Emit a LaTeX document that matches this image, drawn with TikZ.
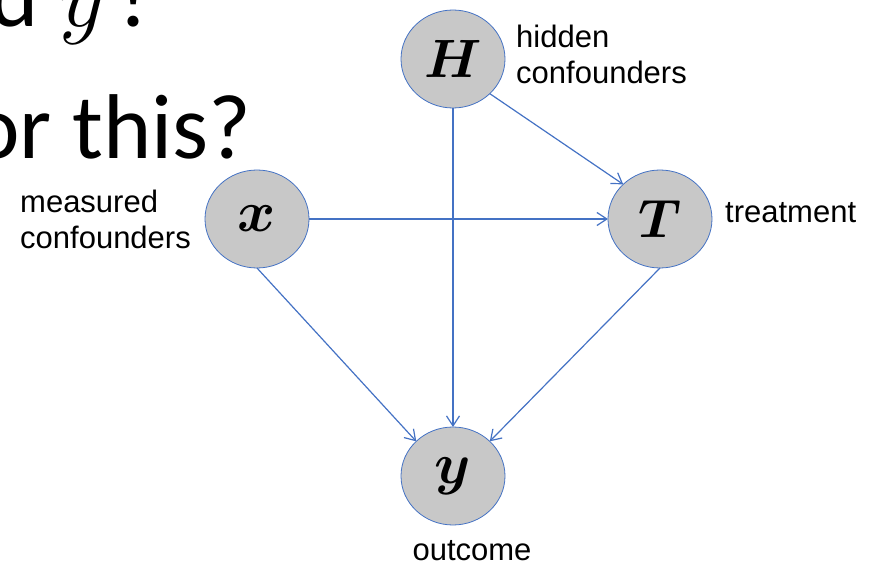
\RequirePackage{fix-cm}
\documentclass[tikz,border=0pt]{standalone}
\usepackage{amsmath,bm}
\usepackage{fontspec}
\setmainfont{Liberation Sans}
\newfontfamily\slidefont{Carlito}
\usetikzlibrary{arrows.meta,shapes.geometric}
\definecolor{edgeblue}{HTML}{4472C4}
\definecolor{nodegray}{HTML}{C8C8C8}

\begin{document}
\begin{tikzpicture}[x=1pt,y=-1pt,>={Straight Barb[length=10pt,width=13pt]},
  var/.style={ellipse,draw=edgeblue,line width=0.8pt,fill=nodegray,inner sep=0pt,outer sep=0pt,
    minimum width=104pt,minimum height=98pt,font=\fontsize{54}{54}\selectfont},
  lbl/.style={inner sep=0pt,align=left,font=\fontsize{31}{36}\selectfont},
  title/.style={anchor=base west,inner sep=0pt,font=\slidefont\fontsize{92}{92}\selectfont},
  edge/.style={->,draw=edgeblue,line width=1.2pt}]
\useasboundingbox (0,0) rectangle (879,564);
% slide text behind the graph, cut at the left border
\node[title] (title1) at (-10,27) {d $y$\kern12pt!};
\node[title] (title2) at (-29,159) {or this?};
% variables
\node[var] (H) at (453,59) {$\bm{H}$};
\node[var,font=\fontsize{58}{58}\selectfont] (x) at (257,219) {$\bm{x}$};
\node[var] (T) at (660,219) {$\bm{T}$};
\node[var,font=\fontsize{58}{58}\selectfont] (y) at (453,476) {$\bm{y}$};
% labels
\node[lbl,anchor=north west] (hlab) at (516,25) {hidden\\confounders};
\node[lbl,anchor=north west] (mlab) at (20,190) {measured\\confounders};
\node[lbl,anchor=base west] (tlab) at (725,223) {treatment};
\node[lbl,anchor=base] (olab) at (472,560) {outcome};
% causal arrows
\draw[edge] (H.south) -- (y.north);
\draw[edge] (H.south east) -- (T.north west);
\draw[edge] (x.east) -- (T.west);
\draw[edge] (x.south) -- (y.north west);
\draw[edge] (T.south) -- (y.north east);
\end{tikzpicture}
\end{document}
